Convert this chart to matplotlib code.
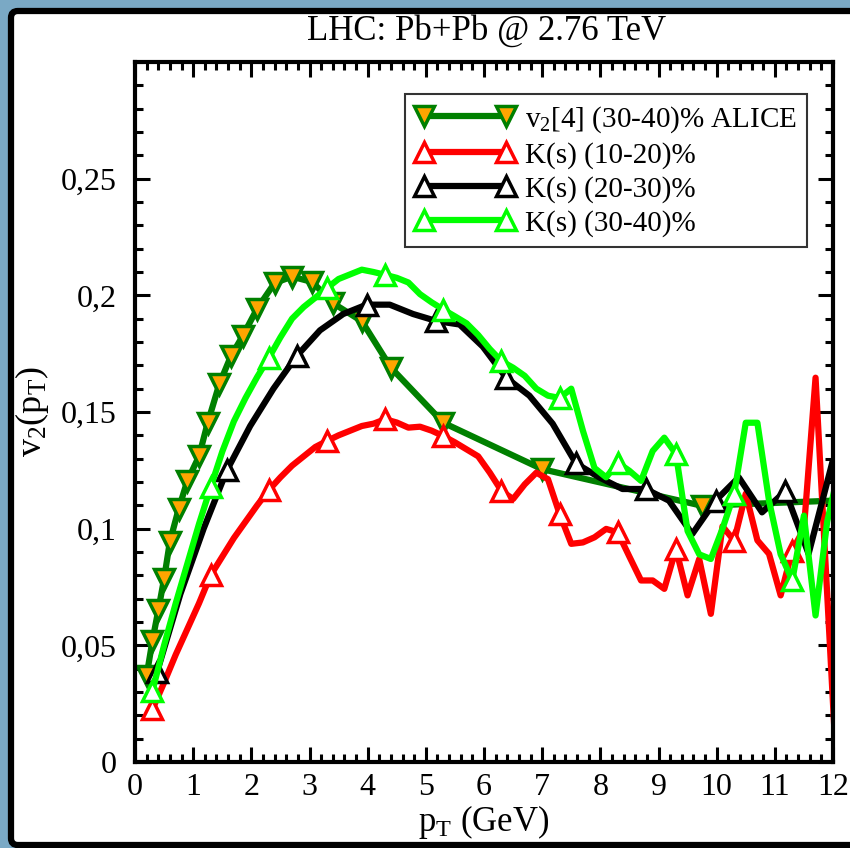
import matplotlib
matplotlib.use("Agg")
import matplotlib.pyplot as plt
from matplotlib.patches import FancyBboxPatch
from matplotlib.ticker import MultipleLocator

plt.rcParams["font.family"] = ["Liberation Serif", "DejaVu Serif"]
plt.rcParams["mathtext.fontset"] = "custom"
plt.rcParams["mathtext.rm"] = "Liberation Serif"
plt.rcParams["mathtext.it"] = "Liberation Serif:italic"

# ALICE v2[4] (30-40%)
alice_pt = [0.2, 0.3, 0.4, 0.5, 0.6, 0.75, 0.9, 1.1, 1.25, 1.45, 1.65, 1.85, 2.1,
            2.4, 2.7, 3.05, 3.4, 3.9, 4.4, 5.3, 7.0, 9.75, 13.0]
alice_v2 = [0.037, 0.052, 0.065, 0.0785, 0.0945, 0.1084, 0.1205, 0.131, 0.1454,
            0.162, 0.174, 0.1825, 0.1943, 0.2053, 0.208, 0.2057, 0.1967, 0.1889,
            0.169, 0.1454, 0.1255, 0.1098, 0.113]

# K(s) 10-20% und 30-40% (gleiche pT-Punkte)
ks_pt = [0.3, 0.5, 0.7, 0.9, 1.1, 1.3, 1.5, 1.7, 1.9, 2.1, 2.3, 2.5, 2.7, 2.9, 3.1,
         3.3, 3.5, 3.7, 3.9, 4.1, 4.3, 4.5, 4.7, 4.9, 5.1, 5.3, 5.5, 5.7, 5.9, 6.1,
         6.3, 6.5, 6.7, 6.9, 7.1, 7.3, 7.5, 7.7, 7.9, 8.1, 8.3, 8.5, 8.7, 8.9, 9.1,
         9.3, 9.5, 9.7, 9.9, 10.1, 10.3, 10.5, 10.7, 10.9, 11.1, 11.3, 11.5, 11.7,
         11.9, 12.1]
ks_10_20 = [0.0226, 0.034, 0.046, 0.057, 0.068, 0.080, 0.088, 0.096, 0.103, 0.110,
            0.1165, 0.122, 0.127, 0.131, 0.135, 0.1376, 0.140, 0.142, 0.144, 0.145,
            0.1469, 0.1455, 0.1433, 0.1437, 0.142, 0.1397, 0.137, 0.134, 0.131, 0.124,
            0.1162, 0.1127, 0.119, 0.124, 0.1212, 0.1063, 0.0935, 0.0941, 0.0963, 0.0999,
            0.0984, 0.088, 0.0778, 0.0778, 0.0742, 0.0913, 0.0714, 0.087, 0.0635, 0.101,
            0.0949, 0.115, 0.095, 0.0892, 0.0714, 0.0906, 0.100, 0.1647, 0.072, -0.022]
ks_30_40 = [0.0305, 0.050, 0.068, 0.085, 0.102, 0.1177, 0.133, 0.146, 0.156, 0.165,
            0.1732, 0.182, 0.190, 0.195, 0.199, 0.2031, 0.207, 0.209, 0.211, 0.210,
            0.2088, 0.2075, 0.2055, 0.2005, 0.197, 0.1939, 0.191, 0.188, 0.183, 0.177,
            0.1718, 0.169, 0.1655, 0.160, 0.157, 0.156, 0.160, 0.142, 0.126, 0.122,
            0.1283, 0.1248, 0.1205, 0.1333, 0.139, 0.132, 0.099, 0.089, 0.087, 0.100,
            0.1148, 0.1454, 0.1454, 0.112, 0.089, 0.0778, 0.1056, 0.0628, 0.103, 0.125]

# K(s) 20-30%
ks2_pt = [0.38, 0.78, 1.18, 1.58, 1.98, 2.38, 2.78, 3.18, 3.58, 3.98, 4.38, 4.78,
          5.18, 5.58, 5.98, 6.38, 6.78, 7.18, 7.58, 7.98, 8.38, 8.78, 9.18, 9.58,
          9.98, 10.38, 10.78, 11.18, 11.58, 11.98]
ks_20_30 = [0.0386, 0.072, 0.100, 0.125, 0.144, 0.160, 0.174, 0.185, 0.192, 0.196,
            0.196, 0.192, 0.189, 0.1875, 0.178, 0.1647, 0.157, 0.145, 0.128, 0.122,
            0.117, 0.117, 0.112, 0.0977, 0.112, 0.122, 0.107, 0.116, 0.0892, 0.1276]

y_ticks = [0, 0.05, 0.1, 0.15, 0.2, 0.25]
y_tick_labels = ["0", "0,05", "0,1", "0,15", "0,2", "0,25"]
x_ticks = list(range(0, 13))

fig = plt.figure(figsize=(8.5, 8.48), dpi=100, facecolor="#7aa9c5")

# weisser Rahmen mit schwarzer Kante
rahmen = FancyBboxPatch((11 / 850, 3 / 848), 1.2, 1 - 14 / 848,
                        boxstyle="round,pad=0,rounding_size=0.008",
                        transform=fig.transFigure, facecolor="white",
                        edgecolor="black", linewidth=4.5, zorder=-10)
fig.add_artist(rahmen)

ax = fig.add_axes([135 / 850, 1 - 762 / 848, 698 / 850, 700 / 848])
ax.set_facecolor("white")
ax.set_zorder(1)

ms = 14
ax.plot(alice_pt, alice_v2, color="#008000", lw=4.5, marker="v", ms=ms,
        mfc="#ffa500", mec="#008000", mew=2.5, label=r"v$_2$[4] (30-40)% ALICE")
ax.plot(ks_pt, ks_10_20, color="red", lw=4.5, marker="^", ms=ms, markevery=5,
        mfc="white", mec="red", mew=2.5, label="K(s) (10-20)%")
ax.plot(ks2_pt, ks_20_30, color="black", lw=4.5, marker="^", ms=ms, markevery=3,
        mfc="white", mec="black", mew=2.5, label="K(s) (20-30)%")
ax.plot(ks_pt, ks_30_40, color="#00ff00", lw=4.5, marker="^", ms=ms, markevery=5,
        mfc="white", mec="#00ff00", mew=2.5, label="K(s) (30-40)%")

ax.set_xlim(0, 12)
ax.set_ylim(0, 0.3)
ax.set_xticks(x_ticks)
ax.set_yticks(y_ticks)
ax.set_yticklabels(y_tick_labels)
ax.xaxis.set_minor_locator(MultipleLocator(0.2))
ax.yaxis.set_minor_locator(MultipleLocator(0.01))
ax.tick_params(which="both", direction="in", top=True, right=True, width=2.2)
ax.tick_params(which="major", length=11, labelsize=23)
ax.tick_params(axis="x", which="major", pad=8)
ax.tick_params(axis="y", which="major", pad=13)
ax.tick_params(which="minor", length=6)
for sp in ax.spines.values():
    sp.set_linewidth(3)

ax.set_xlabel(r"p$_{\rm T}$ (GeV)", fontsize=25)
ax.set_ylabel(r"v$_2$(p$_{\rm T}$)", fontsize=26)
ax.xaxis.set_label_coords(0.5, -0.058)
ax.yaxis.set_label_coords(-0.12, 0.5)

fig.text(487 / 850, 1 - 31 / 848, "LHC: Pb+Pb @ 2.76 TeV", fontsize=25,
         ha="center", va="center")

leg = ax.legend(loc="upper right", bbox_to_anchor=((807 - 135) / 698, (762 - 94) / 700),
                fontsize=21, numpoints=2, handlelength=3.4, frameon=True,
                fancybox=False, borderpad=0.35, labelspacing=0.24, handletextpad=0.35,
                borderaxespad=0)
leg.get_frame().set_edgecolor("black")
leg.get_frame().set_linewidth(1.5)

fig.savefig("out.png", dpi=100, facecolor=fig.get_facecolor())
